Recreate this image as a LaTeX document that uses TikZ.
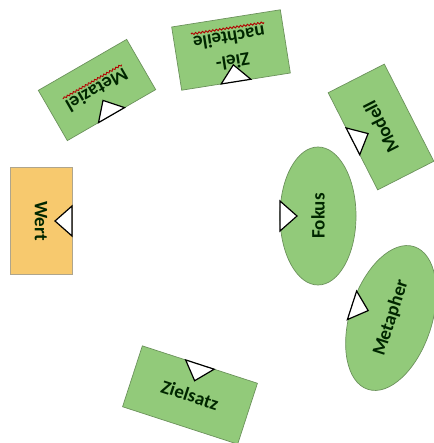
\documentclass[tikz,border=0pt]{standalone}
\usepackage{fontspec}
\setmainfont{Carlito}
\usetikzlibrary{shapes.geometric,calc,decorations.pathmorphing}

\definecolor{kartengruen}{RGB}{146,202,122}
\definecolor{kartenrand}{RGB}{108,146,92}
\definecolor{wertorange}{RGB}{247,201,110}
\definecolor{wertrand}{RGB}{175,165,140}

\begin{document}
\begin{tikzpicture}[x=1pt,y=-1pt,
	karte/.style={draw=kartenrand,fill=kartengruen,line width=0.7pt,inner sep=0pt,outer sep=0pt,
		font=\bfseries\fontsize{19}{24}\selectfont,text=black!85!green},
	ovalkarte/.style={karte,ellipse},
	zeiger/.style={draw=black,fill=white,line width=1.2pt,line join=miter},
	tippfehler/.style={draw=red!70!black,line width=0.9pt,decorate,decoration={snake,amplitude=0.9pt,segment length=3.5pt}}]

	\useasboundingbox (0,0) rectangle (433,443);

	\node[karte,fill=wertorange,draw=wertrand,rotate=-90,minimum width=107pt,minimum height=62pt] (wert) at (41,221){Wert};
	\node[karte,rotate=210,minimum width=102pt,minimum height=58pt] (metaziel) at (97,90){Metaziel};
	\node[karte,rotate=189,minimum width=110pt,minimum height=64pt,align=center] (zielnachteile) at (231,50){Ziel-\\nachteile};
	\node[karte,rotate=117,minimum width=109pt,minimum height=63pt] (modell) at (381,127){Modell};
	\node[ovalkarte,rotate=90,minimum width=138pt,minimum height=76pt] (fokus) at (318,216){Fokus};
	\node[ovalkarte,rotate=72,minimum width=150pt,minimum height=82pt] (metapher) at (391,318){Metapher};
	\node[karte,rotate=-18,minimum width=121pt,minimum height=64pt] (zielsatz) at (190,395){Zielsatz};

	% Wellenlinien unter Metaziel und nachteile
	\begin{scope}[shift={(metaziel.base)},rotate=210]
		\draw[tippfehler] (-34,3) -- (34,3);
	\end{scope}
	\begin{scope}[shift={(zielnachteile.center)},rotate=189]
		\draw[tippfehler] (-37,22) -- (37,22);
	\end{scope}

	% Dreiecke an der Innenseite
	\foreach \n in {wert,metaziel,zielnachteile,modell,fokus,metapher,zielsatz}
		\draw[zeiger] ($(\n.north)!15pt!90:(\n.center)$) -- ($(\n.north)!17pt!(\n.center)$) -- ($(\n.north)!15pt!-90:(\n.center)$) -- cycle;

\end{tikzpicture}
\end{document}
